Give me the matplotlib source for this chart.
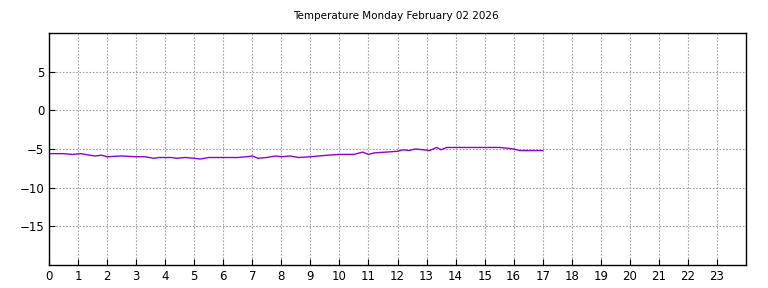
import matplotlib
matplotlib.use("Agg")
import matplotlib.pyplot as plt

# hour of day and temperature readings
hours = [0.0, 0.5, 0.8, 1.1, 1.4, 1.6, 1.8, 2.0, 2.5, 3.0, 3.3, 3.6, 3.8,
         4.2, 4.4, 4.7, 5.0, 5.2, 5.5, 6.0, 6.5, 6.8, 7.0, 7.2, 7.5, 7.8,
         8.0, 8.3, 8.6, 9.0, 9.3, 9.6, 10.0, 10.5, 10.8, 11.0, 11.2, 11.6,
         12.0, 12.2, 12.4, 12.6, 12.9, 13.1, 13.35, 13.5, 13.7, 14.5, 15.5,
         15.8, 16.0, 16.2, 17.0]
temps = [-5.6, -5.6, -5.7, -5.6, -5.8, -5.9, -5.8, -6.0, -5.9, -6.0, -6.0,
         -6.2, -6.1, -6.1, -6.2, -6.1, -6.2, -6.3, -6.1, -6.1, -6.1, -6.0,
         -5.9, -6.2, -6.1, -5.9, -6.0, -5.9, -6.1, -6.0, -5.9, -5.8, -5.7,
         -5.7, -5.4, -5.7, -5.5, -5.4, -5.3, -5.1, -5.2, -5.0, -5.1, -5.2,
         -4.8, -5.1, -4.8, -4.8, -4.8, -4.9, -5.0, -5.2, -5.2]

x_ticks = list(range(0, 24))
y_ticks = [-15, -10, -5, 0, 5]
title = "Temperature Monday February 02 2026"

fig = plt.figure(figsize=(7.68, 2.88), dpi=100)
ax = fig.add_axes([49 / 768, 1 - 265 / 288, 697 / 768, 232 / 288])

ax.plot(hours, temps, color="#9400d3", linewidth=1)

ax.set_xlim(0, 24)
ax.set_ylim(-20, 10)
ax.set_xticks(x_ticks)
ax.set_yticks(y_ticks)
ax.tick_params(direction="in", length=4, labelsize=8.5, top=False, right=False)
ax.grid(True, color="#a0a0a0", linestyle=(0, (1.5, 1.5)), linewidth=0.8)
for s in ax.spines.values():
    s.set_linewidth(1.0)
    s.set_color("black")

fig.text(396 / 768, 1 - 16 / 288, title, ha="center", va="center", fontsize=7.5)

fig.savefig("out.png", dpi=100)
